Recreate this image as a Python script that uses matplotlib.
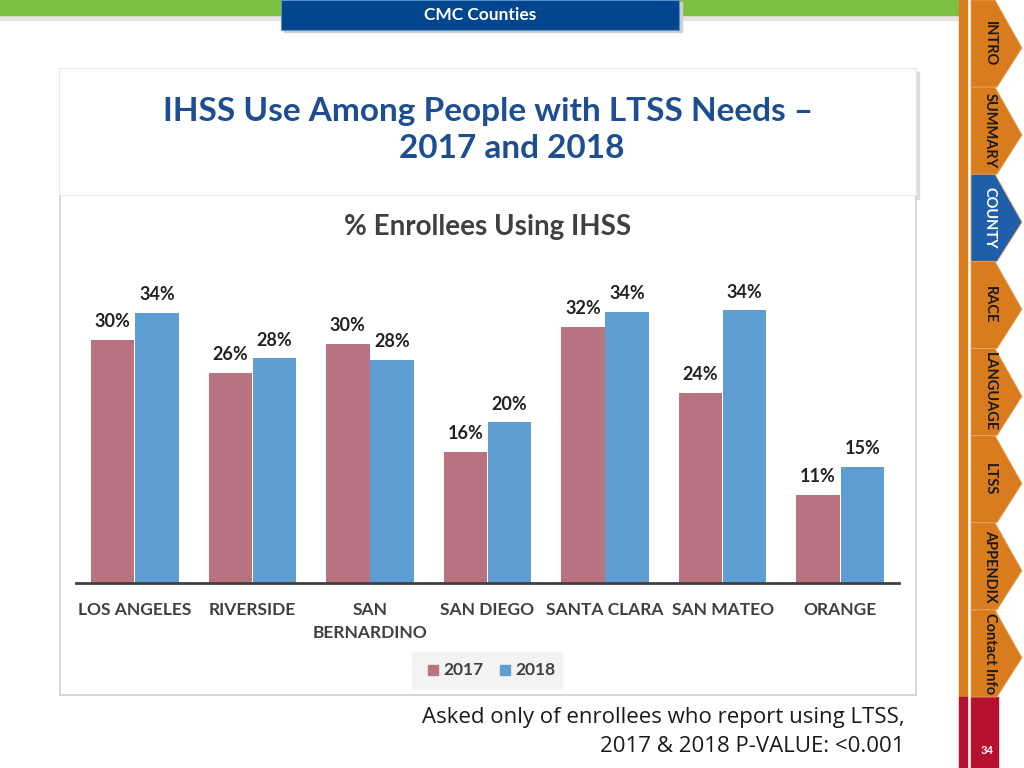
import numpy as np
import matplotlib.pyplot as plt
from matplotlib.patches import Rectangle, Polygon

# ------------------------------------
# Data
# ------------------------------------
counties = ["LOS ANGELES", "RIVERSIDE", "SAN\nBERNARDINO", "SAN DIEGO",
            "SANTA CLARA", "SAN MATEO", "ORANGE"]
vals_2017 = [30.4, 26.3, 29.9, 16.4, 32.0, 23.8, 11.0]
vals_2018 = [33.8, 28.1, 27.9, 20.1, 33.9, 34.1, 14.5]
labels_2017 = ["30%", "26%", "30%", "16%", "32%", "24%", "11%"]
labels_2018 = ["34%", "28%", "28%", "20%", "34%", "34%", "15%"]
tabs = ["INTRO", "SUMMARY", "COUNTY", "RACE", "LANGUAGE", "LTSS", "APPENDIX", "Contact Info"]

C17 = "#b97280"
C18 = "#5f9ed3"
ORANGE = "#d97c1e"
BLUE = "#1f5ea8"
TITLE_BLUE = "#1d4e92"
TXT = "#404040"
W, H = 1024, 768

plt.rcParams['font.family'] = ['Lato', 'DejaVu Sans']

fig = plt.figure(figsize=(W / 100, H / 100), dpi=100)

# background layer in pixel coords
bg = fig.add_axes([0, 0, 1, 1])
bg.set_xlim(0, W)
bg.set_ylim(H, 0)
bg.axis("off")

# top green band + shadow
bg.add_patch(Rectangle((0, 15), 958, 5, color="#e4e4e4", zorder=1))
bg.add_patch(Rectangle((0, 0), 958, 15, color="#7cc143", zorder=2))

# CMC Counties box
bg.add_patch(Rectangle((284, 2), 398, 30, color="#d0d0d0", zorder=3))
bg.add_patch(Rectangle((281, 0), 398, 30, facecolor="#00468c", edgecolor="#5a8fd0", lw=0.8, zorder=4))
bg.text(480, 15, "CMC Counties", color="white", fontsize=12.5, fontweight="bold",
        ha="center", va="center", zorder=5)

# title card with shadow
bg.add_patch(Rectangle((63, 72), 856, 127, color="#dcdcdc", zorder=1))
bg.add_patch(Rectangle((59, 68), 857, 127, facecolor="white", edgecolor="#e8e8e8", lw=0.8, zorder=2))
bg.text(488, 111, "IHSS Use Among People with LTSS Needs \u2013", color=TITLE_BLUE,
        fontsize=24, fontweight="bold", ha="center", va="center", zorder=3)
bg.text(512, 148, "2017 and 2018", color=TITLE_BLUE,
        fontsize=24, fontweight="bold", ha="center", va="center", zorder=3)

# chart frame
bg.add_patch(Rectangle((60, 195), 856, 500, facecolor="white", edgecolor="#cfcfcf", lw=1.2, zorder=1))
bg.text(488, 227, "% Enrollees Using IHSS", color=TXT, fontsize=20, fontweight="bold",
        ha="center", va="center", zorder=3)

# legend background
bg.add_patch(Rectangle((412, 652), 150, 36, color="#f3f3f3", zorder=2))
bg.add_patch(Rectangle((428, 665), 10, 10, color=C17, zorder=3))
bg.text(443, 670, "2017", color=TXT, fontsize=12.5, fontweight="bold", ha="left", va="center", zorder=3)
bg.add_patch(Rectangle((500, 665), 10, 10, color=C18, zorder=3))
bg.text(515, 670, "2018", color=TXT, fontsize=12.5, fontweight="bold", ha="left", va="center", zorder=3)

# footnote
bg.text(905, 718, "Asked only of enrollees who report using LTSS,", color="#1a1a1a",
        fontsize=16, ha="right", va="center", family=["Open Sans", "DejaVu Sans"])
bg.text(905, 747, "2017 & 2018 P-VALUE: <0.001", color="#1a1a1a",
        fontsize=16, ha="right", va="center", family=["Open Sans", "DejaVu Sans"])

# right navigation
bg.add_patch(Rectangle((959, 0), 8, 697, color=ORANGE, zorder=2))
bg.add_patch(Rectangle((959, 697), 8, 71, color="#b5102e", zorder=2))
bg.add_patch(Rectangle((971, 697), 27, 71, color="#b5102e", zorder=2))
bg.text(987, 750, "34", color="white", fontsize=8, fontweight="bold", ha="center", va="center", zorder=3)
tab_h = 697 / len(tabs)
for i, name in enumerate(tabs):
    top = i * tab_h
    bot = top + tab_h
    col = BLUE if name == "COUNTY" else ORANGE
    poly = Polygon([(971, top), (995, top), (1022, top + 0.55 * tab_h), (997, bot), (971, bot)],
                   closed=True, facecolor=col, edgecolor="#e9a35c", lw=0.6, zorder=3)
    bg.add_patch(poly)
    bg.text(990, top + tab_h / 2, name, rotation=-90, fontsize=10.5, fontweight="bold",
            color="white" if name == "COUNTY" else "#1a1a1a", ha="center", va="center", zorder=4)

# ------------------------------------
# Bar chart
# ------------------------------------
ax = fig.add_axes([76 / W, 1 - 583 / H, (899 - 76) / W, (583 - 260) / H])
ax.patch.set_alpha(0)
x = np.arange(len(counties))
bw = 0.37
off = 0.188
ax.bar(x - off, vals_2017, bw, color=C17, zorder=2)
ax.bar(x + off, vals_2018, bw, color=C18, zorder=2)

for xi, v, lab in zip(x, vals_2017, labels_2017):
    ax.annotate(lab, (xi - off, v), xytext=(0, 18), textcoords="offset pixels",
                ha="center", va="center", fontsize=13, fontweight="bold", color="#222222")
for xi, v, lab in zip(x, vals_2018, labels_2018):
    ax.annotate(lab, (xi + off, v), xytext=(0, 18), textcoords="offset pixels",
                ha="center", va="center", fontsize=13, fontweight="bold", color="#222222")

ax.set_xlim(-0.5, len(counties) - 0.5)
ax.set_ylim(0, (583 - 260) / 8)
ax.set_yticks([])
ax.set_xticks(x)
ax.set_xticklabels(counties, fontsize=12.5, fontweight="bold", color=TXT, linespacing=1.5)
ax.tick_params(axis="x", length=0, pad=14)
for s in ["top", "right", "left"]:
    ax.spines[s].set_visible(False)
ax.spines["bottom"].set_color("#404040")
ax.spines["bottom"].set_linewidth(2)

fig.savefig("out.png", dpi=100)
